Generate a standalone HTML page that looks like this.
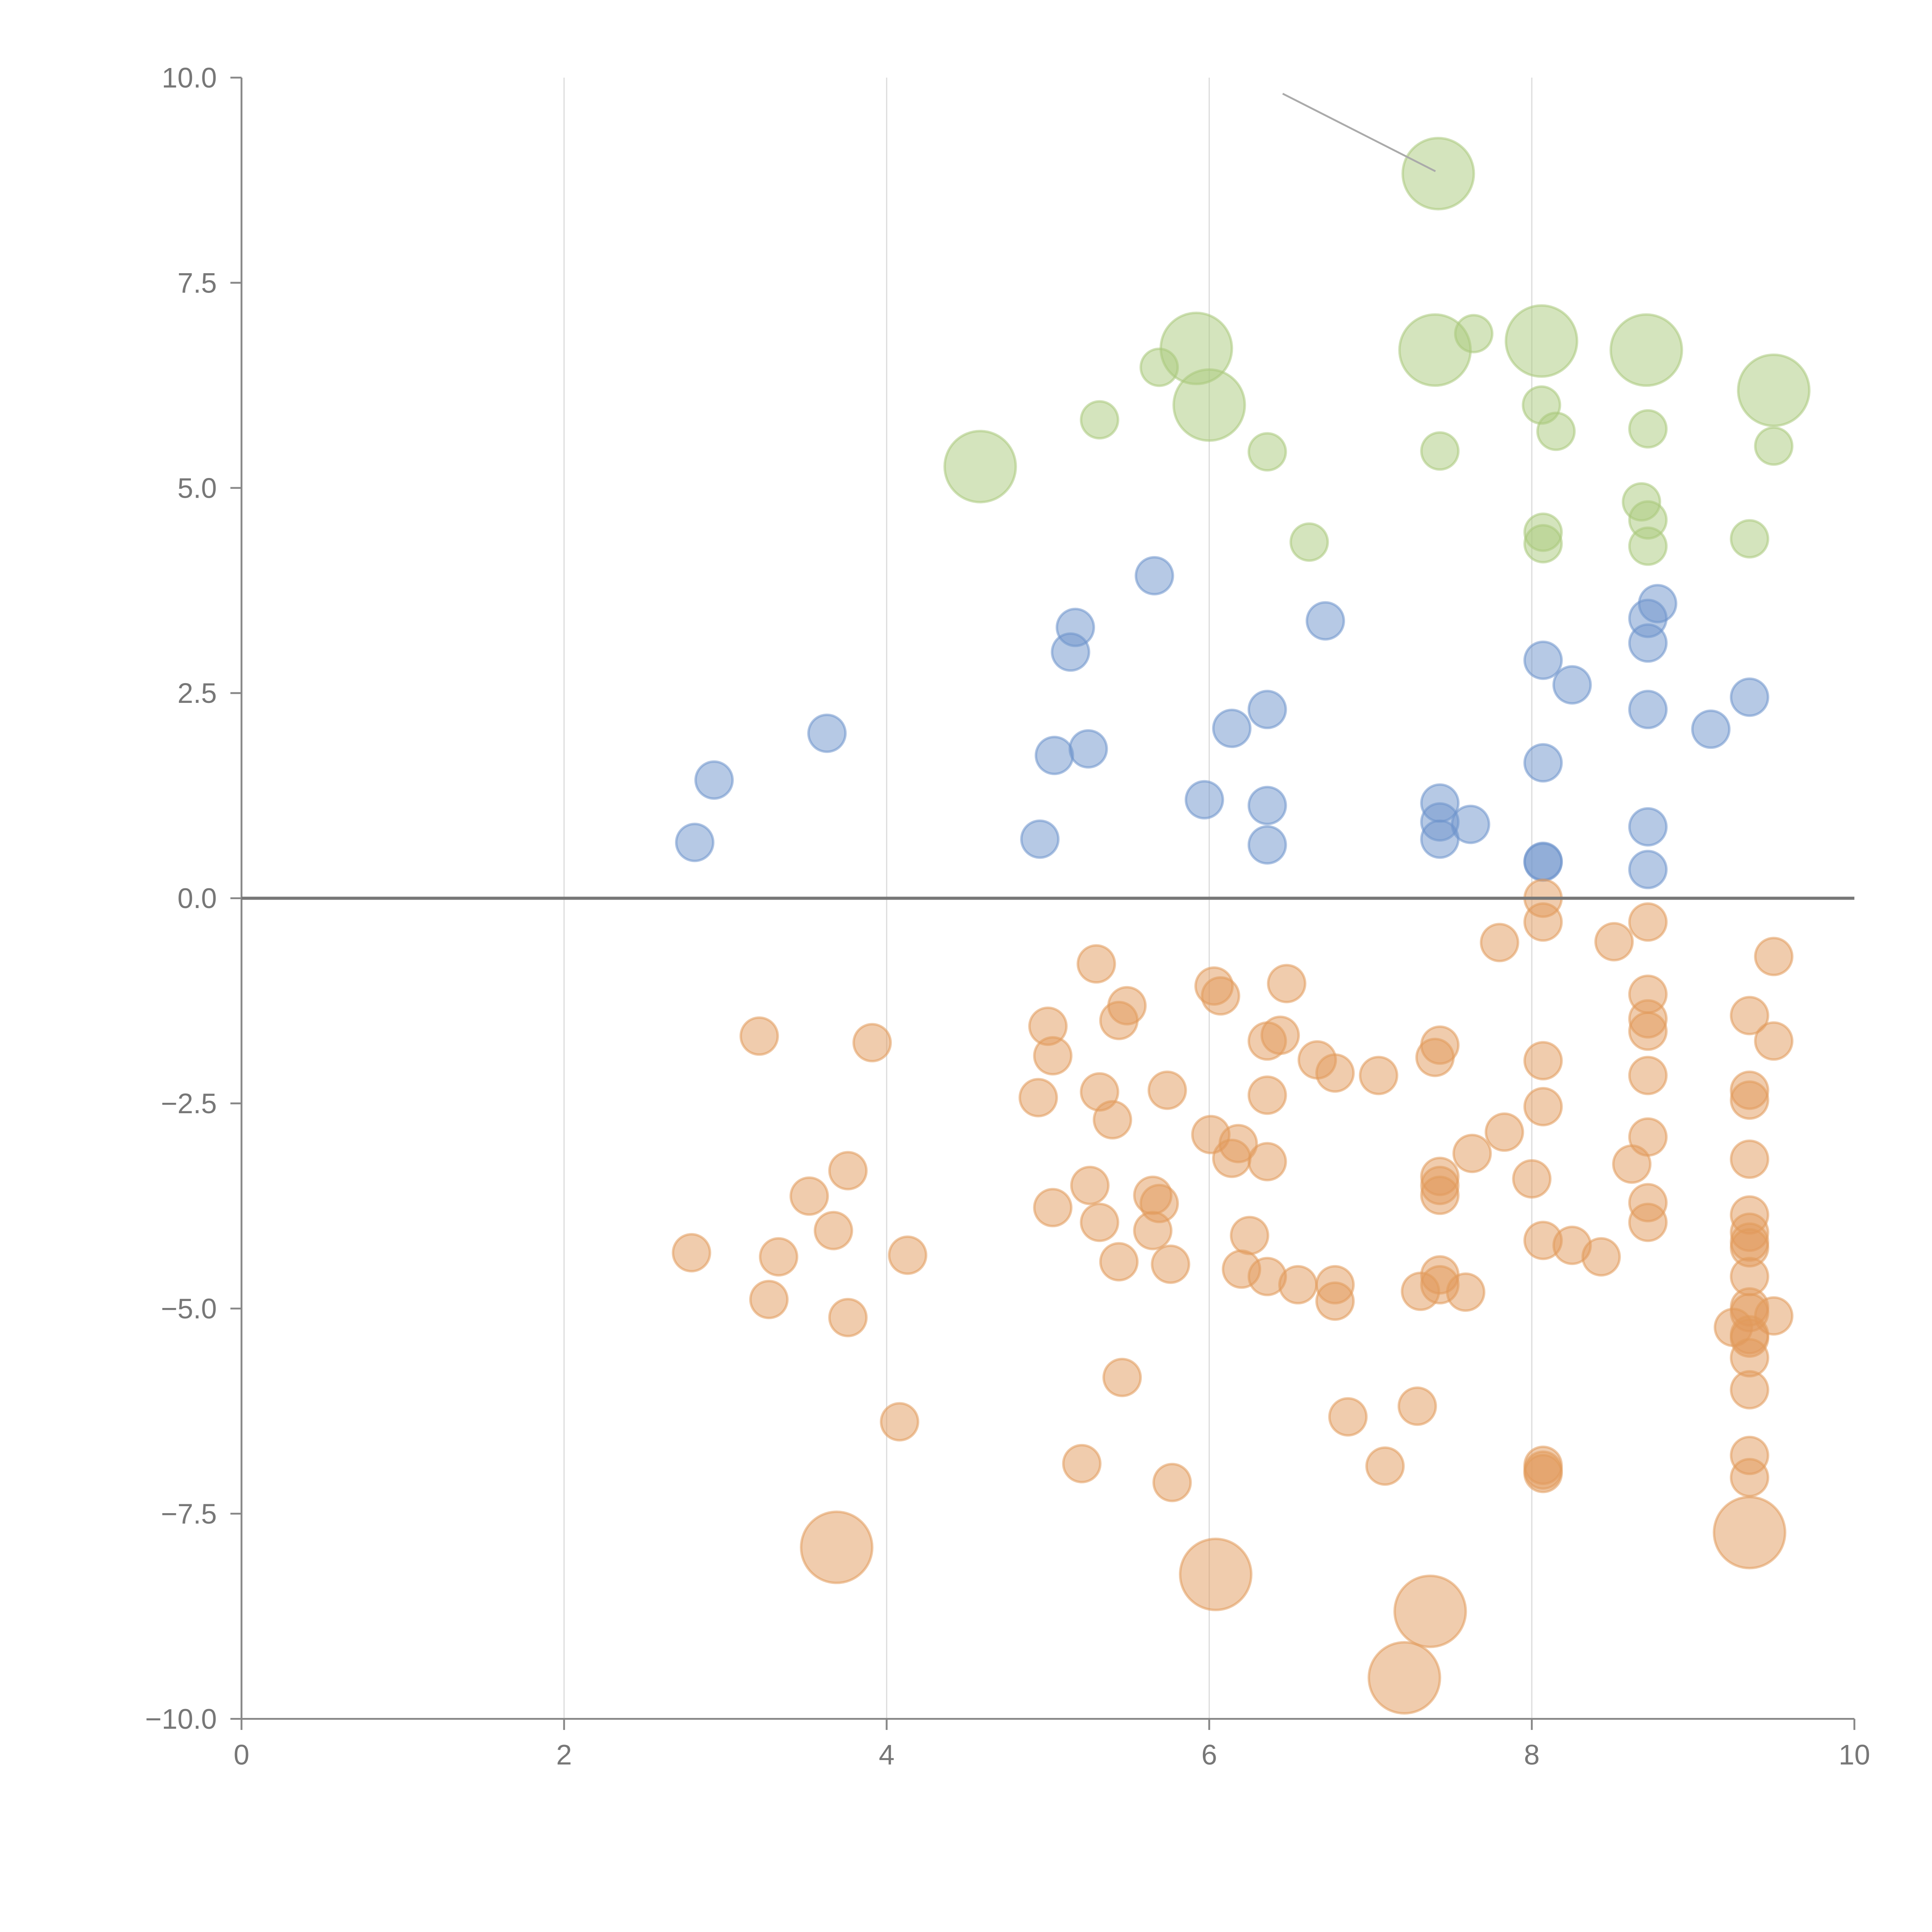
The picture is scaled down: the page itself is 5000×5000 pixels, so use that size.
<!DOCTYPE html>
<html><head><meta charset="utf-8"><style>
html,body{margin:0;padding:0;background:#fff}
svg{display:block}
text{font-family:"Liberation Sans",Arial,sans-serif;fill:#777}
</style></head><body>
<svg id="chart" width="5000" height="5000" viewBox="0 0 1568 1568" xmlns="http://www.w3.org/2000/svg">
<g id="grid"></g>
<g id="marks"></g>
<g id="axes"></g>
<line x1="1041" y1="76" x2="1165" y2="139" stroke="#aaa" stroke-width="1.5"/>
</svg>
<script>
const xTicks=[0,2,4,6,8,10];
const yTicks=[-10,-7.5,-5,-2.5,0,2.5,5,7.5,10];
const greenX=[7.42,5.92,7.40,8.06,8.71,6.00,9.50,4.58,7.64,5.69,5.32,6.36,7.43,8.06,8.15,8.72,9.50,6.62,8.68,8.72,8.72,8.07,8.07,9.35];
const greenY=[8.83,6.70,6.68,6.79,6.68,6.01,6.19,5.26,6.88,6.47,5.83,5.44,5.45,6.01,5.69,5.72,5.51,4.34,4.83,4.61,4.29,4.46,4.32,4.38];
const greenS=[3.7,3.7,3.7,3.7,3.7,3.7,3.7,3.7,1,1,1,1,1,1,1,1,1,1,1,1,1,1,1,1];
const blueX=[5.66,5.17,5.14,6.72,8.78,8.72,8.72,8.07,8.25,9.35,9.11,8.72,6.36,6.14,3.63,2.93,5.04,5.25,8.07,5.97,6.36,7.43,7.43,7.62,7.43,8.72,2.81,4.95,6.36,8.07,8.07,8.72];
const blueY=[3.93,3.30,3.00,3.38,3.59,3.41,3.11,2.90,2.60,2.45,2.06,2.30,2.30,2.07,2.01,1.44,1.74,1.82,1.65,1.20,1.13,1.16,0.93,0.90,0.72,0.87,0.68,0.72,0.65,0.44,0.45,0.35];
const orangeX=[8.07,8.07,8.72,7.80,8.51,9.50,5.30,6.48,6.03,6.07,8.72,5.49,5.44,5.00,8.72,8.72,9.35,3.21,3.91,6.44,6.36,7.43,7.40,9.50,5.03,6.67,8.07,6.78,7.05,8.72,4.94,5.32,5.74,6.36,9.35,9.35,8.07,5.40,7.83,8.72,6.01,6.18,6.14,7.63,6.36,9.35,8.62,3.76,8.00,7.43,7.43,7.43,5.26,3.52,5.65,5.69,8.72,5.03,9.35,5.32,8.72,3.67,5.65,9.35,6.25,8.07,9.35,8.25,9.35,2.79,4.13,3.33,8.43,5.44,5.76,6.20,6.36,7.43,9.35,6.55,6.78,7.43,7.31,7.59,3.27,6.78,9.35,9.35,3.76,9.50,9.25,9.35,9.35,9.35,5.46,9.35,7.29,6.86,4.08,9.35,5.21,7.09,8.07,8.07,8.07,9.35,5.77,3.69,6.04,7.37,7.21,9.35];
const orangeY=[0.00,-0.29,-0.29,-0.54,-0.53,-0.71,-0.80,-1.04,-1.07,-1.19,-1.17,-1.31,-1.49,-1.56,-1.47,-1.62,-1.43,-1.68,-1.76,-1.67,-1.74,-1.79,-1.94,-1.74,-1.92,-1.97,-1.98,-2.13,-2.16,-2.16,-2.43,-2.36,-2.34,-2.40,-2.34,-2.46,-2.54,-2.70,-2.85,-2.91,-2.88,-2.99,-3.17,-3.11,-3.21,-3.18,-3.24,-3.32,-3.42,-3.39,-3.50,-3.62,-3.50,-3.63,-3.62,-3.72,-3.71,-3.77,-3.86,-3.95,-3.95,-4.05,-4.05,-4.07,-4.11,-4.17,-4.19,-4.23,-4.26,-4.32,-4.35,-4.37,-4.37,-4.43,-4.46,-4.52,-4.61,-4.59,-4.61,-4.71,-4.71,-4.71,-4.79,-4.80,-4.89,-4.91,-4.98,-5.05,-5.11,-5.09,-5.23,-5.32,-5.36,-5.60,-5.84,-5.99,-6.19,-6.32,-6.38,-6.79,-6.89,-6.92,-6.91,-6.97,-7.01,-7.06,-7.12,-7.91,-8.24,-8.69,-9.50,-7.73];
const orangeBig=[3.69,6.04,7.37,7.21,9.35];

const NS="http://www.w3.org/2000/svg";
const X0=196,X1=1505,Y0=1395,Y1=63;
function sx(v){return X0+(v-0)/(10-0)*(X1-X0);}
function sy(v){return Y0-(v+10)/20*(Y0-Y1);}
function mk(tag,attrs,parent){const e=document.createElementNS(NS,tag);for(const k in attrs)e.setAttribute(k,attrs[k]);parent.appendChild(e);return e;}
const grid=document.getElementById('grid'),axes=document.getElementById('axes'),marks=document.getElementById('marks');
xTicks.forEach(t=>{
  if(t>0&&t<10){const g=mk('line',{x1:sx(t),x2:sx(t),y1:Y1,y2:Y0,stroke:'#ddd','stroke-width':1},grid);
  
  }
  const tk=mk('line',{x1:sx(t),x2:sx(t),y1:Y0,y2:Y0+9,stroke:'#888','stroke-width':1.5},axes);
  
  
  const tx=mk('text',{x:sx(t),y:Y0+37,'text-anchor':'middle','font-size':23},axes);
  tx.textContent=String(t);
  
  
});
yTicks.forEach(t=>{
  const tk=mk('line',{x1:X0-9,x2:X0,y1:sy(t),y2:sy(t),stroke:'#888','stroke-width':1.5},axes);
  
  
  const tx=mk('text',{x:X0-20,y:sy(t)+8,'text-anchor':'end','font-size':23},axes);
  tx.textContent=(t<0?'\u2212':'')+Math.abs(t).toFixed(1);
  
  
});
const ya=mk('line',{x1:X0,x2:X0,y1:Y1,y2:Y0,stroke:'#888','stroke-width':1.5},axes);


const xa=mk('line',{x1:X0,x2:X1,y1:Y0,y2:Y0,stroke:'#888','stroke-width':1.5},axes);


const zl=mk('line',{x1:X0,x2:X1,y1:sy(0),y2:sy(0),stroke:'#777','stroke-width':2.5},axes);



function series(xs,ys,ss,color,name){
  xs.forEach((x,i)=>{
    const s=ss?ss[i]:1;
    const c=mk('circle',{cx:sx(x),cy:sy(ys[i]),r:15*Math.sqrt(s),fill:color,'fill-opacity':0.5,stroke:color,'stroke-opacity':0.55,'stroke-width':2},marks);
    
    
  });
}
series(greenX,greenY,greenS,'#a9c97c','bubble-green');
series(blueX,blueY,null,'#6d94cc','bubble-blue');
const orangeS=orangeX.map((x,i)=>i>=orangeX.length-orangeBig.length?3.7:1);
series(orangeX,orangeY,orangeS,'#e29a5b','bubble-orange');
</script>
</body></html>
